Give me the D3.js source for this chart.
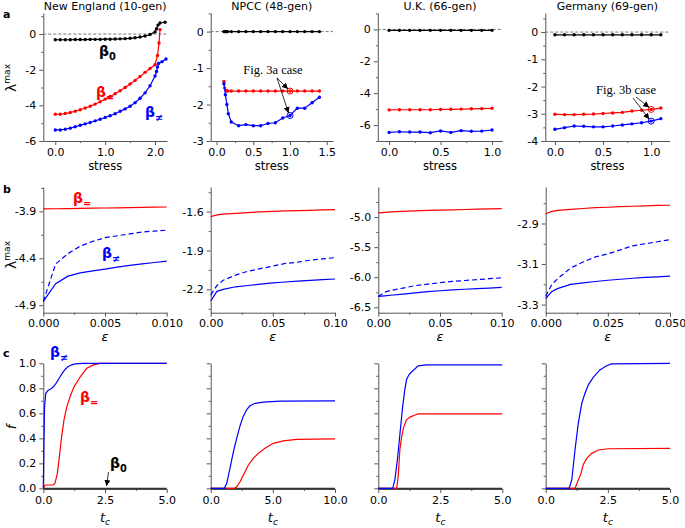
<!DOCTYPE html>
<html>
<meta charset='utf-8'>
<head>
<script src='https://d3js.org/d3.v7.min.js'></script>
<style>
body {margin:0; background:#fff}
text {font-family:'DejaVu Sans', sans-serif}
</style>
</head>
<body>
<div id='chart'></div>
<script>

// ---------- row a : lambda_max vs stress ----------
var neX = [0,0.1,0.2,0.3,0.4,0.5,0.6,0.7,0.8,0.9,1.0,1.1,1.2,1.3,1.4,1.5,1.6,1.7,1.8,1.9,2.0]
var neB0S = neX.concat([2.03,2.06,2.1,2.2])
var neB0 = [-0.32,-0.32,-0.32,-0.32,-0.31,-0.31,-0.31,-0.3,-0.3,-0.3,-0.29,-0.29,-0.28,-0.27,-0.26,-0.24,-0.21,-0.17,-0.11,-0.03,0.12,0.3,0.5,0.62,0.66]
var neBeqS = neX.concat([2.05,2.08,2.1])
var neBeq = [-4.5,-4.5,-4.46,-4.4,-4.33,-4.25,-4.15,-4.05,-3.93,-3.8,-3.65,-3.5,-3.35,-3.18,-3.0,-2.8,-2.6,-2.38,-2.15,-1.93,-1.72,-1.2,-0.5,0.25]
var neBneS = neX.concat([2.03,2.05,2.07,2.14,2.22])
var neBne = [-5.38,-5.38,-5.34,-5.28,-5.2,-5.12,-5.04,-4.96,-4.87,-4.78,-4.68,-4.58,-4.47,-4.33,-4.2,-4.05,-3.85,-3.6,-3.3,-2.9,-2.35,-2.1,-1.85,-1.65,-1.55,-1.4]

var npB0S = [0.1,0.11,0.12,0.13,0.14,0.15,0.2,0.3,0.4,0.5,0.6,0.7,0.8,0.9,1.0,1.1,1.2,1.3,1.4]
var npB0 = [0,0,0,0,0,0,0,0,0,0,0,0,0,0,0,0,0,0,0]
var npBeqS = [0.1,0.11,0.13,0.15,0.2,0.3,0.4,0.5,0.6,0.7,0.8,0.9,1.0,1.1,1.2,1.3,1.4]
var npBeq = [-1.37,-1.55,-1.62,-1.63,-1.63,-1.63,-1.63,-1.63,-1.63,-1.63,-1.63,-1.63,-1.63,-1.63,-1.63,-1.63,-1.63]
var npBneS = [0.1,0.12,0.14,0.16,0.2,0.3,0.4,0.5,0.6,0.7,0.8,0.9,1.0,1.1,1.2,1.3,1.4]
var npBne = [-1.43,-1.73,-2.0,-2.25,-2.48,-2.58,-2.55,-2.58,-2.58,-2.52,-2.5,-2.37,-2.3,-2.1,-2.1,-1.95,-1.8]

var ukS = [0,0.1,0.2,0.3,0.4,0.5,0.6,0.7,0.8,0.9,1.0]
var ukB0 = [-0.06,-0.06,-0.06,-0.06,-0.06,-0.06,-0.06,-0.06,-0.06,-0.06,-0.06]
var ukBeq = [-5.05,-5.04,-5.04,-5.04,-5.04,-5.02,-5.01,-5.0,-4.98,-4.97,-4.95]
var ukBne = [-6.46,-6.42,-6.44,-6.44,-6.48,-6.37,-6.46,-6.35,-6.39,-6.38,-6.31]

var deS = [0,0.1,0.2,0.3,0.4,0.5,0.6,0.7,0.8,0.9,1.0,1.1]
var deB0 = [-0.1,-0.1,-0.1,-0.1,-0.1,-0.1,-0.1,-0.1,-0.1,-0.1,-0.1,-0.1]
var deBeq = [-3.02,-3.03,-3.03,-3.02,-3.01,-2.99,-2.97,-2.95,-2.9,-2.87,-2.84,-2.79]
var deBne = [-3.57,-3.51,-3.45,-3.46,-3.48,-3.48,-3.45,-3.41,-3.37,-3.33,-3.27,-3.18]

var caseStress = 1.0   // "Fig. 3a/3b case" points

// ---------- row b : lambda_max vs epsilon ----------
var neEps = [0,0.001,0.002,0.003,0.004,0.005,0.006,0.007,0.008,0.009,0.01]
var neEpsBeq = [-3.874,-3.872,-3.870,-3.868,-3.866,-3.864,-3.862,-3.860,-3.858,-3.855,-3.853]
var neEpsDash = [-4.86,-4.46,-4.35,-4.27,-4.22,-4.18,-4.16,-4.14,-4.12,-4.11,-4.10]
var neEpsBne = [-4.86,-4.67,-4.59,-4.555,-4.535,-4.515,-4.495,-4.475,-4.46,-4.445,-4.43]

var npEps = [0,0.005,0.01,0.02,0.03,0.04,0.05,0.06,0.07,0.08,0.09,0.1]
var npEpsBeq = [-1.639,-1.625,-1.62,-1.613,-1.607,-1.602,-1.598,-1.595,-1.592,-1.59,-1.587,-1.585]
var npEpsDash = [-2.244,-2.17,-2.13,-2.09,-2.06,-2.04,-2.02,-2.0,-1.99,-1.975,-1.965,-1.955]
var npEpsBne = [-2.29,-2.215,-2.2,-2.18,-2.17,-2.16,-2.15,-2.143,-2.137,-2.131,-2.125,-2.12]

var ukEps = [0,0.005,0.01,0.02,0.03,0.04,0.05,0.06,0.07,0.08,0.09,0.1]
var ukEpsBeq = [-4.93,-4.922,-4.915,-4.905,-4.897,-4.89,-4.884,-4.879,-4.874,-4.869,-4.865,-4.86]
var ukEpsDash = [-6.32,-6.25,-6.22,-6.18,-6.14,-6.115,-6.09,-6.07,-6.055,-6.04,-6.025,-6.01]
var ukEpsBne = [-6.32,-6.31,-6.3,-6.28,-6.26,-6.24,-6.225,-6.21,-6.2,-6.19,-6.18,-6.17]

var deEps = [0,0.0025,0.005,0.01,0.015,0.02,0.025,0.03,0.035,0.04,0.045,0.05]
var deEpsBeq = [-2.852,-2.84,-2.835,-2.83,-2.826,-2.822,-2.82,-2.817,-2.815,-2.813,-2.811,-2.81]
var deEpsDash = [-3.259,-3.2,-3.17,-3.12,-3.09,-3.065,-3.05,-3.03,-3.01,-3.0,-2.99,-2.98]
var deEpsBne = [-3.27,-3.235,-3.22,-3.2,-3.193,-3.186,-3.18,-3.175,-3.17,-3.166,-3.163,-3.16]

// ---------- row c : f vs t_c ----------
var neBneT = [0,0.02,0.05,0.1,0.2,0.3,0.4,0.5,0.6,0.7,0.8,0.9,1.0,1.15,1.3,1.6,5.0]
var neBneF = [0,0.3,0.65,0.76,0.785,0.795,0.81,0.835,0.865,0.9,0.93,0.955,0.972,0.988,0.996,1.0,1.0]
var neBeqT = [0,0.05,0.1,0.4,0.47,0.57,0.65,0.74,0.84,0.95,1.08,1.24,1.49,1.76,2.03,2.3,5.0]
var neBeqF = [0,0.02,0.027,0.027,0.04,0.12,0.25,0.41,0.55,0.65,0.73,0.81,0.89,0.96,0.987,1.0,1.0]
var neB0T = [0,5.0], neB0F = [0,0]

var npBneT = [0,1.1,1.29,1.55,1.82,2.09,2.36,2.6,2.9,3.16,3.57,4.24,5.58,10]
var npBneF = [0,0,0.04,0.16,0.29,0.4,0.5,0.57,0.63,0.66,0.68,0.69,0.698,0.70]
var npBeqT = [0,1.9,2.09,2.36,2.63,3.03,3.43,3.83,4.37,5.04,5.84,6.92,10]
var npBeqF = [0,0,0.013,0.053,0.107,0.187,0.24,0.28,0.32,0.36,0.38,0.392,0.395]
var npB0T = [0,10], npB0F = [0,0]

var ukBneT = [0,0.58,0.67,0.77,0.85,0.98,1.07,1.14,1.24,1.34,1.61,1.95,5]
var ukBneF = [0,0,0.07,0.23,0.39,0.65,0.79,0.87,0.91,0.93,0.98,0.987,0.987]
var ukBeqT = [0,0.74,0.77,0.81,0.87,0.94,1.01,1.14,1.28,1.48,1.61,5]
var ukBeqF = [0,0,0.04,0.12,0.31,0.41,0.48,0.55,0.57,0.587,0.595,0.595]
var ukB0T = [0,5], ukB0F = [0,0]

var deBneT = [0,0.94,1.05,1.18,1.31,1.45,1.58,1.72,1.92,2.18,2.45,2.65,5]
var deBneF = [0,0,0.07,0.31,0.52,0.68,0.76,0.83,0.89,0.947,0.98,0.995,1.0]
var deBeqT = [0,1.18,1.31,1.42,1.51,1.65,1.85,2.12,2.52,5]
var deBeqF = [0,0,0.067,0.12,0.19,0.24,0.28,0.307,0.317,0.32]
var deB0T = [0,5], deB0F = [0,0]

var titles = ['New England (10-gen)', 'NPCC (48-gen)', 'U.K. (66-gen)', 'Germany (69-gen)']

var RED = '#ff0000', BLUE = '#0000ff', BLACK = '#000000'

var svg = d3.select('#chart').append('svg')
    .attr('width', 685)
    .attr('height', 528)

var defs = svg.append('defs')
defs.append('marker')
    .attr('id', 'arrow')
    .attr('viewBox', '0 0 10 10')
    .attr('refX', 10).attr('refY', 5)
    .attr('markerWidth', 6).attr('markerHeight', 6)
    .attr('markerUnits', 'userSpaceOnUse')
    .attr('orient', 'auto')
    .append('path').attr('d', 'M0,0 L10,5 L0,10 z').attr('fill', '#000')

function fmt(n) { return function(d) { return d.toFixed(n) } }
function pairs(xs, ys) { return xs.map(function(d, i) { return [d, ys[i]] }) }

function panel(p) {
    var x = d3.scaleLinear().domain(p.xd).range([p.l, p.r])
    var y = d3.scaleLinear().domain(p.yd).range([p.b, p.t])
    var g = svg.append('g')

    function styleAxis(a) {
        a.selectAll('path, line').attr('stroke', '#555').attr('stroke-width', 1)
        a.selectAll('text').attr('font-size', 11).attr('fill', '#000')
        a.attr('font-size', null).attr('font-family', null)
    }
    var yMin = g.append('g').attr('transform', 'translate(' + p.l + ',0)')
        .call(d3.axisLeft(y).tickValues(p.yMin).tickSize(2).tickSizeOuter(0).tickFormat(''))
    yMin.select('.domain').remove()
    styleAxis(yMin)
    var xMin = g.append('g').attr('transform', 'translate(0,' + p.b + ')')
        .call(d3.axisBottom(x).tickValues(p.xMin).tickSize(2).tickSizeOuter(0).tickFormat(''))
    xMin.select('.domain').remove()
    styleAxis(xMin)
    var yAx = g.append('g').attr('transform', 'translate(' + p.l + ',0)')
        .call(d3.axisLeft(y).tickValues(p.yMaj).tickSize(4).tickSizeOuter(0).tickPadding(3)
            .tickFormat(p.yFmt))
    styleAxis(yAx)
    var xAx = g.append('g').attr('transform', 'translate(0,' + p.b + ')')
        .call(d3.axisBottom(x).tickValues(p.xMaj).tickSize(4).tickSizeOuter(0).tickPadding(3)
            .tickFormat(p.xFmt))
    styleAxis(xAx)
    return {x: x, y: y, g: g}
}

function line(P, xs, ys, color, opt) {
    opt = opt || {}
    var data = pairs(xs, ys)
    P.g.append('path').datum(data)
        .attr('fill', 'none')
        .attr('stroke', color)
        .attr('stroke-width', opt.w || 1.2)
        .attr('stroke-dasharray', opt.dash || null)
        .attr('d', d3.line().x(function(d) { return P.x(d[0]) }).y(function(d) { return P.y(d[1]) }))
    if (opt.dots) {
        P.g.selectAll(null).data(data).enter().append('circle')
            .attr('cx', function(d) { return P.x(d[0]) })
            .attr('cy', function(d) { return P.y(d[1]) })
            .attr('r', 1.7)
            .attr('fill', color)
    }
}

function zeroLine(P) {
    P.g.append('line')
        .attr('x1', P.x.range()[0]).attr('x2', P.x.range()[1])
        .attr('y1', P.y(0)).attr('y2', P.y(0))
        .attr('stroke', '#777').attr('stroke-width', 1).attr('stroke-dasharray', '3,2')
}

function beta(x, y, sub, color, size) {
    size = size || 14
    var t = svg.append('text').attr('x', x).attr('y', y).attr('fill', color)
        .attr('font-weight', 'bold').attr('font-size', size)
    t.append('tspan').text('β')
    t.append('tspan').text(sub).attr('font-size', size * 0.7).attr('dy', size * 0.28)
}

function lambdaLabel(cy) {
    var t = svg.append('text')
        .attr('transform', 'translate(16,' + cy + ') rotate(-90)')
        .attr('text-anchor', 'middle')
    t.append('tspan').text('λ').attr('font-size', 14)
    t.append('tspan').text('max').attr('font-size', 9).attr('dy', -6)
}

function xLabel(P, y, kind) {
    var cx = (P.x.range()[0] + P.x.range()[1]) / 2
    if (kind === 'stress') {
        svg.append('text').attr('x', cx).attr('y', y).attr('text-anchor', 'middle')
            .attr('font-size', 11.5).text('stress')
    } else if (kind === 'eps') {
        svg.append('text').attr('x', cx).attr('y', y).attr('text-anchor', 'middle')
            .attr('font-size', 13).attr('font-style', 'italic').text('ε')
    } else {
        var t = svg.append('text').attr('x', cx).attr('y', y).attr('text-anchor', 'middle')
            .attr('font-style', 'italic')
        t.append('tspan').text('t').attr('font-size', 13)
        t.append('tspan').text('c').attr('font-size', 9).attr('dy', 3)
    }
}

function arrow(x1, y1, x2, y2) {
    svg.append('line').attr('x1', x1).attr('y1', y1).attr('x2', x2).attr('y2', y2)
        .attr('stroke', '#000').attr('stroke-width', 0.8).attr('marker-end', 'url(#arrow)')
}

function caseMark(P, xs, ys, color) {
    var i = xs.indexOf(caseStress)
    P.g.append('circle').attr('cx', P.x(xs[i])).attr('cy', P.y(ys[i])).attr('r', 3)
        .attr('fill', 'none').attr('stroke', color).attr('stroke-width', 1)
    return [P.x(xs[i]), P.y(ys[i])]
}

function serifNote(x, y, txt) {
    svg.append('text').attr('x', x).attr('y', y).attr('text-anchor', 'middle')
        .style('font-family', "'Liberation Serif', serif").attr('font-size', 12.5).text(txt)
}

// ---------- row a ----------
var rowA = {t: 13, b: 141}
var a1 = panel({l: 43.3, r: 167, t: rowA.t, b: rowA.b, xd: [-0.24, 2.24], yd: [-6, 1.18],
    xMaj: [0, 1, 2], xMin: [0.5, 1.5], xFmt: fmt(1), yMaj: [-6, -4, -2, 0], yMin: [-5, -3, -1, 1], yFmt: fmt(0)})
var a2 = panel({l: 210.7, r: 333, t: rowA.t, b: rowA.b, xd: [-0.08, 1.585], yd: [-3, 0.51],
    xMaj: [0, 0.5, 1, 1.5], xMin: [0.25, 0.75, 1.25], xFmt: fmt(1), yMaj: [-3, -2, -1, 0], yMin: [-2.5, -1.5, -0.5, 0.5], yFmt: fmt(0)})
var a3 = panel({l: 377.8, r: 502.3, t: rowA.t, b: rowA.b, xd: [-0.11, 1.1], yd: [-7, 1.03],
    xMaj: [0, 0.5, 1], xMin: [0.25, 0.75], xFmt: fmt(1), yMaj: [-6, -4, -2, 0], yMin: [-7, -5, -3, -1, 1], yFmt: fmt(0)})
var a4 = panel({l: 545.3, r: 669.5, t: rowA.t, b: rowA.b, xd: [-0.1, 1.19], yd: [-4, 0.7],
    xMaj: [0, 0.5, 1], xMin: [0.25, 0.75], xFmt: fmt(1), yMaj: [-4, -3, -2, -1, 0], yMin: [-3.5, -2.5, -1.5, -0.5, 0.5], yFmt: fmt(0)})

;[a1, a2, a3, a4].forEach(zeroLine)
line(a1, neB0S, neB0, BLACK, {dots: true})
line(a1, neBeqS, neBeq, RED, {dots: true})
line(a1, neBneS, neBne, BLUE, {dots: true})
line(a2, npB0S, npB0, BLACK, {dots: true})
line(a2, npBeqS, npBeq, RED, {dots: true})
line(a2, npBneS, npBne, BLUE, {dots: true})
line(a3, ukS, ukB0, BLACK, {dots: true})
line(a3, ukS, ukBeq, RED, {dots: true})
line(a3, ukS, ukBne, BLUE, {dots: true})
line(a4, deS, deB0, BLACK, {dots: true})
line(a4, deS, deBeq, RED, {dots: true})
line(a4, deS, deBne, BLUE, {dots: true})

var npR = caseMark(a2, npBeqS, npBeq, RED)
var npB = caseMark(a2, npBneS, npBne, BLUE)
serifNote(273, 74, 'Fig. 3a case')
arrow(277, 78, npR[0] - 2, npR[1] - 2)
arrow(277, 78, npB[0] - 1.5, npB[1] - 2.5)

var deR = caseMark(a4, deS, deBeq, RED)
var deB = caseMark(a4, deS, deBne, BLUE)
serifNote(626, 94, 'Fig. 3b case')
arrow(636, 97, deR[0] - 2, deR[1] - 2)
arrow(633, 98, deB[0] - 2, deB[1] - 2)

beta(99, 56, '0', BLACK)
beta(96, 97, '=', RED)
beta(145, 117, '≠', BLUE)

// ---------- row b ----------
var rowB = {t: 187, b: 312.7}
var b1 = panel({l: 43.3, r: 166.7, t: rowB.t, b: rowB.b, xd: [0, 0.01], yd: [-4.98, -3.64],
    xMaj: [0, 0.005, 0.01], xMin: [0.0025, 0.0075], xFmt: fmt(3), yMaj: [-4.9, -4.4, -3.9], yMin: [-4.65, -4.15, -3.65], yFmt: fmt(1)})
var b2 = panel({l: 210.7, r: 335, t: rowB.t, b: rowB.b, xd: [0, 0.1], yd: [-2.38, -1.41],
    xMaj: [0, 0.05, 0.1], xMin: [0.025, 0.075], xFmt: fmt(2), yMaj: [-2.2, -1.9, -1.6], yMin: [-2.35, -2.05, -1.75, -1.45], yFmt: fmt(1)})
var b3 = panel({l: 378.3, r: 501.7, t: rowB.t, b: rowB.b, xd: [0, 0.1], yd: [-6.59, -4.5],
    xMaj: [0, 0.05, 0.1], xMin: [0.025, 0.075], xFmt: fmt(2), yMaj: [-6.5, -6, -5.5, -5], yMin: [-6.25, -5.75, -5.25, -4.75], yFmt: fmt(1)})
var b4 = panel({l: 545.7, r: 670, t: rowB.t, b: rowB.b, xd: [0, 0.05], yd: [-3.34, -2.72],
    xMaj: [0, 0.025, 0.05], xMin: [0.0125, 0.0375], xFmt: fmt(3), yMaj: [-3.3, -3.1, -2.9], yMin: [-3.2, -3.0, -2.8], yFmt: fmt(1)})

line(b1, neEps, neEpsBeq, RED)
line(b1, neEps, neEpsDash, BLUE, {dash: '5,3'})
line(b1, neEps, neEpsBne, BLUE)
line(b2, npEps, npEpsBeq, RED)
line(b2, npEps, npEpsDash, BLUE, {dash: '5,3'})
line(b2, npEps, npEpsBne, BLUE)
line(b3, ukEps, ukEpsBeq, RED)
line(b3, ukEps, ukEpsDash, BLUE, {dash: '5,3'})
line(b3, ukEps, ukEpsBne, BLUE)
line(b4, deEps, deEpsBeq, RED)
line(b4, deEps, deEpsDash, BLUE, {dash: '5,3'})
line(b4, deEps, deEpsBne, BLUE)

beta(73, 203, '=', RED)
beta(102, 258, '≠', BLUE)

// ---------- row c ----------
var rowC = {t: 363.3, b: 489}
var cY = {yd: [-0.005, 1], yMaj: [0, 0.2, 0.4, 0.6, 0.8, 1.0], yMin: [0.1, 0.3, 0.5, 0.7, 0.9]}
var c1 = panel({l: 43.3, r: 166.7, t: rowC.t, b: rowC.b, xd: [0, 5], yd: cY.yd,
    xMaj: [0, 2.5, 5], xMin: [1.25, 3.75], xFmt: fmt(1), yMaj: cY.yMaj, yMin: cY.yMin, yFmt: fmt(1)})
var c2 = panel({l: 210.7, r: 335, t: rowC.t, b: rowC.b, xd: [0, 10], yd: cY.yd,
    xMaj: [0, 5, 10], xMin: [2.5, 7.5], xFmt: fmt(1), yMaj: cY.yMaj, yMin: cY.yMin, yFmt: function() { return '' }})
var c3 = panel({l: 378.3, r: 502.3, t: rowC.t, b: rowC.b, xd: [0, 5], yd: cY.yd,
    xMaj: [0, 2.5, 5], xMin: [1.25, 3.75], xFmt: fmt(1), yMaj: cY.yMaj, yMin: cY.yMin, yFmt: function() { return '' }})
var c4 = panel({l: 545.7, r: 670, t: rowC.t, b: rowC.b, xd: [0, 5], yd: cY.yd,
    xMaj: [0, 2.5, 5], xMin: [1.25, 3.75], xFmt: fmt(1), yMaj: cY.yMaj, yMin: cY.yMin, yFmt: function() { return '' }})

line(c1, neB0T, neB0F, '#333', {w: 1.5})
line(c1, neBeqT, neBeqF, RED)
line(c1, neBneT, neBneF, BLUE)
line(c2, npB0T, npB0F, '#333', {w: 1.5})
line(c2, npBeqT, npBeqF, RED)
line(c2, npBneT, npBneF, BLUE)
line(c3, ukB0T, ukB0F, '#333', {w: 1.5})
line(c3, ukBeqT, ukBeqF, RED)
line(c3, ukBneT, ukBneF, BLUE)
line(c4, deB0T, deB0F, '#333', {w: 1.5})
line(c4, deBeqT, deBeqF, RED)
line(c4, deBneT, deBneF, BLUE)

beta(50, 357, '≠', BLUE)
beta(80, 402, '=', RED)
beta(110, 468, '0', BLACK)
arrow(108.5, 472, 106.5, 486)

// ---------- titles, labels ----------
;[a1, a2, a3, a4].forEach(function(P, i) {
    svg.append('text').attr('x', (P.x.range()[0] + P.x.range()[1]) / 2).attr('y', 9.5)
        .attr('text-anchor', 'middle').attr('font-size', 11).text(titles[i])
    xLabel(P, 170, 'stress')
})
;[b1, b2, b3, b4].forEach(function(P) { xLabel(P, 341, 'eps') })
;[c1, c2, c3, c4].forEach(function(P) { xLabel(P, 522, 'tc') })

lambdaLabel(78)
lambdaLabel(255)
svg.append('text').attr('transform', 'translate(16,427) rotate(-90)')
    .attr('text-anchor', 'middle').attr('font-size', 13).attr('font-style', 'italic').text('f')

svg.append('text').attr('x', 3).attr('y', 18).attr('font-size', 11).attr('font-weight', 'bold').text('a')
svg.append('text').attr('x', 3).attr('y', 193).attr('font-size', 11).attr('font-weight', 'bold').text('b')
svg.append('text').attr('x', 3).attr('y', 357).attr('font-size', 11).attr('font-weight', 'bold').text('c')

</script>
</body>
</html>
